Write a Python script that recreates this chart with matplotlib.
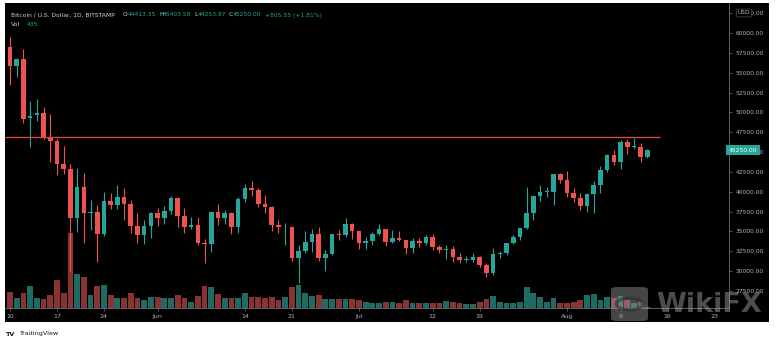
import matplotlib
matplotlib.use("Agg")
import matplotlib.pyplot as plt
from matplotlib.patches import Rectangle, FancyBboxPatch, Circle
import numpy as np
import pandas as pd

# ---------------- data (BTC/USD daily, Bitstamp, 2021-05-10 .. 2021-08-13) ----------------
start_date = "2021-05-10"
opens = [58250, 55850, 56700, 49300, 49700, 49950, 46750, 46400, 43550, 42850,
         36700, 40600, 37300, 37450, 34700, 38800, 38300, 39300, 38500, 35700,
         34600, 35700, 37300, 36700, 37600, 39200, 36900, 35500, 35800, 33600,
         33400, 37400, 36700, 37300, 35500, 39100, 40500, 40200, 38400, 38100,
         35800, 35500, 35600, 31600, 32500, 33700, 34700, 31600, 32200, 34700,
         34500, 35900, 35000, 33600, 33800, 34700, 35300, 33700, 34200, 33900,
         32900, 33800, 33500, 34300, 33100, 32700, 32800, 31800, 31400, 31450,
         31800, 30800, 29800, 32150, 32300, 33600, 34300, 35400, 37300, 39500,
         40000, 40000, 42200, 41500, 39900, 39200, 38200, 39700, 40900, 42800,
         44600, 43800, 46300, 45600, 45600, 44413.35]
highs = [59500, 56900, 58000, 51400, 51700, 50700, 49800, 46600, 45800, 43500,
         43000, 42400, 38970, 38300, 39980, 39800, 40800, 40480, 38900, 37300,
         36400, 37500, 37900, 38200, 39500, 39300, 37900, 36800, 36800, 34100,
         37500, 38400, 37700, 37400, 39300, 41000, 41300, 40500, 39600, 38200,
         36400, 36100, 35700, 33300, 35060, 35300, 35550, 32700, 34700, 35200,
         36700, 36100, 35000, 34300, 34900, 35950, 35300, 35200, 35100, 33900,
         34180, 34200, 34600, 34700, 33300, 33300, 33200, 32300, 31900, 32300,
         31900, 31000, 32920, 32600, 33600, 34500, 35400, 40600, 39500, 40900,
         40600, 42300, 42400, 42600, 40500, 39800, 39900, 41300, 43300, 44800,
         45300, 46500, 46600, 46800, 46200, 45403.58]
lows = [53400, 54400, 48600, 45600, 48900, 46600, 43750, 42100, 42300, 30000,
        34900, 33550, 35200, 31160, 34400, 37830, 37800, 36450, 34800, 33600,
        33400, 34200, 35700, 35900, 37200, 35600, 34800, 35300, 33300, 31000,
        32400, 35800, 35900, 34700, 34800, 38700, 39500, 38100, 37330, 35100,
        34800, 33300, 31300, 28500, 32300, 32400, 31300, 30000, 32000, 33900,
        34300, 34050, 32800, 32800, 33300, 34500, 33200, 33500, 33800, 32170,
        32300, 33100, 33300, 32700, 32300, 31540, 31200, 31000, 31150, 31200,
        30500, 29270, 29500, 31700, 32000, 33400, 33900, 35300, 36400, 38800,
        39300, 38300, 41100, 39400, 38700, 37700, 37500, 37330, 39900, 42500,
        43400, 42900, 44800, 45400, 43800, 44253.97]
closes = [55850, 56700, 49150, 49600, 49950, 46750, 46400, 43550, 42850, 36700,
          40600, 37300, 37450, 34700, 38800, 38300, 39300, 38500, 35700, 34600,
          35700, 37300, 36700, 37600, 39200, 36900, 35500, 35800, 33600, 33400,
          37400, 36700, 37300, 35500, 39100, 40500, 40200, 38400, 38100, 35800,
          35500, 35600, 31600, 32500, 33700, 34700, 31600, 32200, 34700, 34500,
          35900, 35000, 33500, 33800, 34700, 35300, 33700, 34200, 33900, 32900,
          33800, 33500, 34300, 33100, 32700, 32800, 31800, 31400, 31500, 31800,
          30800, 29800, 32150, 32300, 33600, 34300, 35400, 37300, 39500, 40000,
          40000, 42200, 41500, 39900, 39200, 38200, 39700, 40900, 42800, 44600,
          43800, 46300, 45600, 45650, 44400, 45250.00]
volumes = [9400, 6000, 9000, 13000, 5800, 5400, 8000, 17000, 9000, 45000,
           20600, 18400, 8000, 13000, 14000, 8000, 6000, 6000, 9000, 6000,
           4600, 6400, 6400, 6000, 6000, 8000, 6000, 3700, 7200, 13400,
           12400, 8400, 5800, 5800, 5800, 9200, 6400, 6400, 5800, 6800,
           4800, 6400, 12400, 14000, 8800, 7200, 7800, 5400, 5400, 5400,
           5400, 5400, 4800, 3400, 2800, 2800, 3600, 3800, 2800, 4800,
           3000, 2800, 3000, 3200, 3200, 4400, 3800, 3200, 2400, 2400,
           3800, 5400, 7400, 3800, 3200, 2800, 3800, 12800, 8800, 6400,
           3800, 5800, 2800, 3200, 3800, 4800, 7600, 8600, 4600, 6600,
           6000, 7200, 4800, 3000, 3600, 435]

resistance_level = 46950
price_ticks = [27500, 30000, 32500, 35000, 37500, 40000, 42500, 45000, 47500,
               50000, 52500, 55000, 57500, 60000, 62500]
time_tick_dates = ["2021-05-10", "2021-05-17", "2021-05-24", "2021-06-01", "2021-06-14",
                   "2021-06-21", "2021-07-01", "2021-07-12", "2021-07-19", "2021-08-01",
                   "2021-08-09", "2021-08-16", "2021-08-23"]
time_tick_labels = ["10", "17", "24", "Jun", "14", "21", "Jul", "12", "19", "Aug", "9", "16", "23"]
change_text = "+805.55 (+1.81%)"

# ---------------- figure ----------------
W, H = 775, 343
fig = plt.figure(figsize=(W / 100, H / 100), dpi=100, facecolor="white")

def fx(x):
    return x / W

def fy(y):
    return 1 - y / H

# black chart panel (behind everything)
fig.patches.append(Rectangle((fx(5), fy(322)), fx(769) - fx(5), fy(3) - fy(322),
                             transform=fig.transFigure, facecolor="black",
                             edgecolor="none", zorder=-10))

ax_l, ax_r, ax_t, ax_b = 5, 729, 3, 308
ax = fig.add_axes([fx(ax_l), fy(ax_b), fx(ax_r) - fx(ax_l), fy(ax_t) - fy(ax_b)])

dates = pd.date_range(start_date, periods=len(opens), freq="D")
t0 = dates[0]
xs = np.array([(d - t0).days for d in dates], dtype=float)

O = np.array(opens, float)
Hh = np.array(highs, float)
L = np.array(lows, float)
C = np.array(closes, float)
V = np.array(volumes, float)

up_col = "#26a69a"
dn_col = "#ef5350"
vol_up = "#1d6b62"
vol_dn = "#8a3333"

up = C >= O
cols = np.where(up, up_col, dn_col)

# volume on a twin axis (behind candles)
axv = ax.twinx()
axv.bar(xs, V, width=0.86, color=np.where(up, vol_up, vol_dn), zorder=1)
axv.set_ylim(0, 183000)
axv.axis("off")
axv.set_zorder(0)
ax.set_zorder(1)
ax.patch.set_visible(False)
axv.patch.set_visible(False)

# candles
ax.vlines(xs, L, Hh, colors=cols, linewidth=0.8, zorder=3)
body_lo = np.minimum(O, C)
body_h = np.maximum(np.abs(C - O), 120)
ax.bar(xs, body_h, bottom=body_lo, width=0.68, color=cols, zorder=4, linewidth=0)

xmin = (ax_l - 10) / 6.71
xmax = (ax_r - 10) / 6.71

# resistance line
ax.plot([xmin, 96.9], [resistance_level, resistance_level], color="#d9483a",
        linewidth=1.0, zorder=5, solid_capstyle="butt")

ax.set_xlim(xmin, xmax)
axv.set_xlim(xmin, xmax)
ax.set_ylim(25357, 63779)

# axes styling
axis_col = "#5d606b"
lab_col = "#b2b5be"
for s in ["top", "left"]:
    ax.spines[s].set_visible(False)
ax.spines["right"].set_color(axis_col)
ax.spines["bottom"].set_color(axis_col)
ax.spines["right"].set_linewidth(0.7)
ax.spines["bottom"].set_linewidth(0.7)

ax.yaxis.tick_right()
ax.set_yticks(price_ticks)
ax.set_yticklabels([f"{p:.2f}" for p in price_ticks])
ax.tick_params(axis="y", colors=axis_col, labelcolor=lab_col, labelsize=4.3,
               length=2.5, width=0.6, pad=2)

tick_x = [(pd.Timestamp(d) - t0).days for d in time_tick_dates]
ax.set_xticks(tick_x)
ax.set_xticklabels(time_tick_labels)
ax.tick_params(axis="x", colors=axis_col, labelcolor=lab_col, labelsize=4.5,
               length=2.5, width=0.6, pad=2)

# current price tag
ax.text(1.0, C[-1], f"{C[-1]:.2f}", transform=ax.get_yaxis_transform(),
        ha="left", va="center", fontsize=4.3, color="white", zorder=10,
        bbox=dict(boxstyle="square,pad=0.45", facecolor="#26a69a", edgecolor="none"),
        clip_on=False)

# USD box
fig.text(fx(744), fy(13), "USD", fontsize=4.2, color=lab_col, ha="center", va="center",
         bbox=dict(boxstyle="round,pad=0.25,rounding_size=0.2", facecolor="black",
                   edgecolor="#434651", linewidth=0.6), zorder=12)

# header legend
hdr_col = "#d1d4dc"
val_col = "#26a69a"
fs = 4.3
fig.text(fx(11), fy(15), "Bitcoin / U.S. Dollar, 1D, BITSTAMP", fontsize=fs, color=hdr_col,
         ha="left", va="center")
pieces = [(123, "O", hdr_col), (128, f"{O[-1]:.2f}", val_col),
          (159, "H", hdr_col), (163, f"{Hh[-1]:.2f}", val_col),
          (194, "L", hdr_col), (197.5, f"{L[-1]:.2f}", val_col),
          (229, "C", hdr_col), (233, f"{C[-1]:.2f}", val_col),
          (265, change_text, val_col)]
for x, s, c in pieces:
    fig.text(fx(x), fy(15), s, fontsize=fs, color=c, ha="left", va="center")
fig.text(fx(11), fy(24.5), "Vol", fontsize=fs, color=hdr_col, ha="left", va="center")
fig.text(fx(27), fy(24.5), f"{int(V[-1])}", fontsize=fs, color=val_col, ha="left", va="center")

# watermark
fig.patches.append(FancyBboxPatch((fx(611), fy(321)), fx(648) - fx(611), fy(287) - fy(321),
                                  boxstyle="round,pad=0,rounding_size=0.008",
                                  transform=fig.transFigure, facecolor="#9a9a9a",
                                  edgecolor="none", alpha=0.45, zorder=20))
fig.patches.append(Circle((fx(629.5), fy(304)), 0.017, transform=fig.transFigure,
                          facecolor="none", edgecolor="#2a2a2a", linewidth=2.2,
                          alpha=0.55, zorder=21))
fig.text(fx(656), fy(305), "WikiFX", fontsize=19.5, color="#9a9a9a", alpha=0.5,
         ha="left", va="center", fontweight="bold", zorder=20)

# footer
fig.text(fx(6), fy(334), "TV", fontsize=4.6, color="#131722", fontweight="bold",
         ha="left", va="center")
fig.text(fx(19), fy(334), "TradingView", fontsize=4.6, color="#131722",
         ha="left", va="center")

fig.savefig("out.png", dpi=100, facecolor="white")
